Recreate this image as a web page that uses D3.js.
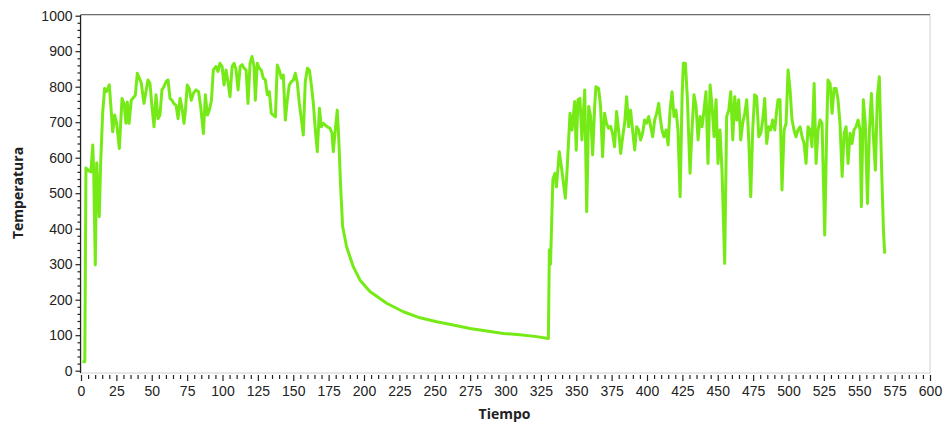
<!DOCTYPE html>
<html><head><meta charset="utf-8">
<script src="https://cdn.jsdelivr.net/npm/d3@7/dist/d3.min.js"></script>
<style>
body{margin:0;background:#fff;}
svg{display:block;font-family:"Open Sans","Noto Sans",sans-serif;}
</style></head>
<body>
<svg id="c" width="947" height="431"></svg>
<script>
const xTicks = [0,25,50,75,100,125,150,175,200,225,250,275,300,325,350,375,400,425,450,475,500,525,550,575,600];
const yTicks = [0,100,200,300,400,500,600,700,800,900,1000];
const xTitle = "Tiempo";
const yTitle = "Temperatura";

const tiempo = [1,2.7,3.5,5,7,8.3,9,10.1,11.1,12.9,13.9,15.3,16.7,18.1,20,21,22.4,23.8,25.2,27.1,29,30.4,31.8,32.7,34,35.5,38.4,39.8,41.2,42.6,44.5,47.3,48.7,50.2,51.6,53,54.4,55.8,57.2,58.6,60.1,61.5,62.9,64.3,65.7,67.2,68.6,70,71.4,72.8,73.8,75.1,76.5,77.9,79.4,81.3,83.1,84.6,86.5,87.9,89.3,90.7,92.2,93.5,95.4,96.8,98.2,99.7,101.1,102.5,103.9,105.3,106.8,108.2,109.6,111,112.5,113.9,115.3,116.7,118,119.5,120.8,122.3,123.2,124.6,126,127.4,128.8,130.3,131.7,133.1,134.5,135.9,137.4,138.7,140.1,141.6,143,144.4,145.8,147.2,148.6,150.1,151.5,152.9,154.3,155.7,157.1,158.5,160,161.4,162.8,164.2,165.6,167,168.5,169.9,171.3,172.7,174.1,176,177.4,178.3,179.7,181.1,182.1,183.5,184.9,187.7,192.4,197.2,204.2,216,227.8,239.6,251.4,263.1,274.9,286.7,298.5,310.2,322,330.3,331,331.8,333.5,335,336,338,339.8,342.3,343.5,345.6,347,348.9,350,351.2,352.6,354,356,357.4,358.8,360.2,361.6,363,363.9,365.8,367.2,368.6,370,371.4,372.8,374.3,375.7,377.1,378.5,379.9,381.4,382.8,384.2,385.6,387,388.4,389.8,391.3,392.7,394.1,395.5,396.9,398.3,399.7,401.2,402.6,404,405.4,406.8,408.3,409.2,410.6,412,413.5,414.9,416.3,417.7,419.1,420.5,421.9,423.4,424.8,425.7,427.1,428.5,430.4,431.8,433.2,434.7,436.1,437.5,438.9,440.3,441.7,443.1,444.6,446,447.4,448.8,450.2,451.6,453,454.9,456.3,457.8,459.2,460.6,462,463.4,464.8,466.2,467.6,469.1,470.5,471.9,473.3,474.7,476.1,477.5,479,480.4,481.8,483.2,484.6,486,487.4,488.8,490.3,491.7,492.6,494,495.4,496.9,498.3,499.7,501.1,502.5,503.9,505.3,506.7,508.2,509.6,511,512.4,513.8,515.2,516.6,518.1,519.5,520.9,522.3,523.7,525.6,527,527.9,529.4,530.8,532.2,533.6,535,536.4,537.9,539.3,540.7,542.1,543.5,544.9,546.3,547.7,549.2,550.6,551.5,552.9,554.3,555.8,557.2,558.6,560,561.4,562.8,564.2,565.7,567.1,568];
const temperatura = [25,25,571,565,560,636,560,298,585,434,585,726,795,787,805,752,673,720,697,626,767,752,697,757,697,762,776,838,824,810,753,819,810,743,687,777,710,720,791,800,814,819,767,762,752,748,710,767,739,697,734,805,795,762,781,791,786,743,668,777,720,734,762,847,857,843,866,857,805,847,814,772,857,866,847,791,857,862,852,847,753,866,885,857,762,866,852,847,824,819,777,786,725,720,715,861,847,824,833,706,762,805,814,819,838,810,753,710,664,814,852,847,805,753,678,617,739,687,697,692,687,683,668,617,678,734,659,518,406,349,293,255,223,190,166,149,138,129,119,112,105,101,96,91,340,300,540,556,518,617,565,486,565,725,678,758,621,763,767,650,791,448,744,716,608,744,800,795,744,603,725,697,683,688,668,631,730,678,612,659,697,772,687,734,678,622,687,678,650,669,706,697,716,687,659,706,725,753,716,678,659,678,636,734,786,716,734,678,490,772,866,866,772,556,678,777,744,650,716,687,734,786,584,805,744,659,763,584,678,565,302,716,734,786,650,772,706,763,650,697,725,763,650,490,678,777,772,659,669,706,767,640,687,678,706,678,734,763,763,509,678,697,847,791,706,678,659,678,687,659,640,584,687,678,631,809,584,678,706,697,382,678,819,809,725,795,795,763,697,547,669,687,584,669,640,678,687,706,678,462,763,697,471,678,781,659,565,772,828,584,396,330];

const n = Math.min(tiempo.length, temperatura.length);
const data = d3.range(n).map(i=>({t: tiempo[i], v: temperatura[i]}));

const svg = d3.select("#c");
const pLeft = 81, pRight = 930, pTop = 15.7, zeroY = 370.7, frameBottom = 373;

const x = d3.scaleLinear().domain([0,600]).range([pLeft,pRight]);
const y = d3.scaleLinear().domain([0,1000]).range([zeroY, pTop]);

// plot frame
svg.append("rect").attr("x",pLeft).attr("y",pTop-1).attr("width",pRight-pLeft).attr("height",frameBottom-pTop+1)
  .attr("fill","#fff").attr("stroke","#d0d0d0").attr("stroke-width",1);
svg.append("line").attr("x1",pLeft).attr("x2",pRight).attr("y1",pTop-1).attr("y2",pTop-1)
  .attr("stroke","#555").attr("stroke-width",1);

// y axis
const yMinor = d3.range(0,1001,20).filter(v=>v%100!==0);
const gy = svg.append("g").attr("transform",`translate(${pLeft-0.5},0)`);
gy.call(d3.axisLeft(y).tickValues(yTicks).tickSize(5).tickPadding(3).tickFormat(d3.format("d")));
gy.append("g").call(d3.axisLeft(y).tickValues(yMinor).tickSize(3).tickFormat(""))
  .select(".domain").remove();
gy.select(".domain").attr("d",`M0,${pTop-1}V${frameBottom}`);
gy.selectAll("path,line").attr("stroke","#222").attr("stroke-width",1.2);
gy.selectAll("text").attr("font-size",14).attr("fill","#222");

// x axis
const xMinor = d3.range(0,601,5).filter(v=>v%25!==0);
const gx = svg.append("g").attr("transform",`translate(0,${frameBottom+2})`);
gx.call(d3.axisBottom(x).tickValues(xTicks).tickSize(6).tickPadding(5).tickFormat(d3.format("d")));
gx.append("g").call(d3.axisBottom(x).tickValues(xMinor).tickSize(4).tickFormat(""))
  .select(".domain").remove();
gx.select(".domain").remove();
gx.selectAll("line").attr("stroke","#222").attr("stroke-width",1.2);
gx.selectAll("text").attr("font-size",14).attr("fill","#222");

// line
svg.append("path").datum(data)
  .attr("fill","none").attr("stroke","#76ea16").attr("stroke-width",3)
  .attr("stroke-linejoin","round")
  .attr("d", d3.line().x(d=>x(d.t)).y(d=>y(d.v)));

// titles
svg.append("text").attr("x",(pLeft+pRight)/2 - 1).attr("y",419).attr("text-anchor","middle")
  .attr("font-size",14).attr("font-weight","bold").attr("fill","#222").text(xTitle);
svg.append("text").attr("transform",`translate(23,193) rotate(-90)`).attr("text-anchor","middle")
  .attr("font-size",14).attr("font-weight","bold").attr("fill","#222").text(yTitle);
</script>
</body></html>
